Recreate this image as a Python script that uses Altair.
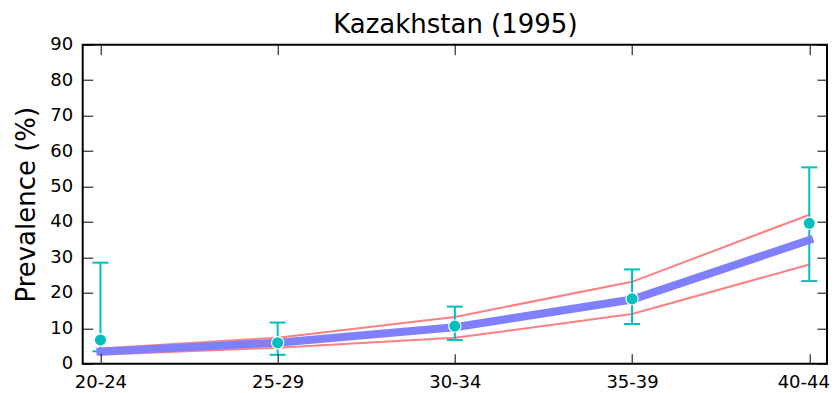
import altair as alt
import pandas as pd

# ---- data ----
age_groups = ["20-24", "25-29", "30-34", "35-39", "40-44"]
model_mean = [3.4, 5.9, 10.3, 18.1, 34.9]
model_upper = [4.3, 7.3, 13.2, 23.1, 42.0]
model_lower = [2.5, 4.5, 7.3, 14.0, 28.0]
obs_value = [6.7, 5.9, 10.6, 18.3, 39.6]
obs_upper = [28.5, 11.6, 16.1, 26.6, 55.4]
obs_lower = [3.5, 2.5, 6.7, 11.2, 23.3]
y_ticks = [0, 10, 20, 30, 40, 50, 60, 70, 80, 90]
chart_title = "Kazakhstan (1995)"
y_title = "Prevalence (%)"

W, H = 744.3, 319

df = pd.DataFrame({
    "age": age_groups,
    "mean": model_mean,
    "obs": obs_value,
    "lo": obs_lower,
    "hi": obs_upper,
})
bounds = pd.concat([
    pd.DataFrame({"age": age_groups, "value": model_upper, "series": "upper"}),
    pd.DataFrame({"age": age_groups, "value": model_lower, "series": "lower"}),
])

FONT = "DejaVu Sans"
CYAN = "#00bfbf"
xscale = alt.Scale(type="point", padding=0.1)
yscale = alt.Scale(domain=[0, 90], nice=False, zero=False)

common = dict(offset=-10, tickSize=10, tickColor="black", tickWidth=1,
              domain=False, grid=False, zindex=1, labelColor="black",
              labelFont=FONT, labelFontSize=18)

# keep the last bottom label inside the page
last_label_shift = {
    "condition": {"test": "datum.value === '%s'" % age_groups[-1], "value": -6},
    "value": 0,
}

bottom_axis = alt.Axis(orient="bottom", labelPadding=10, labelAngle=0,
                       labelOffset=last_label_shift, title=None, **common)
top_axis = alt.Axis(orient="top", labelPadding=36, labelAngle=0,
                    title=chart_title, titleFont=FONT, titleFontSize=26,
                    titleFontWeight="normal", titleColor="black",
                    titleX=W / 2, titleY=-22.4, titleAngle=0,
                    titleBaseline="alphabetic", titleAlign="center", **common)
left_axis = alt.Axis(orient="left", values=y_ticks, labelPadding=10,
                     labelFlush=False, labelOverlap=False,
                     title=y_title, titleFont=FONT, titleFontSize=26,
                     titleFontWeight="normal", titleColor="black",
                     titleX=-58.7, titleY=H / 2, titleAngle=-90,
                     titleBaseline="alphabetic", titleAlign="center", **common)
right_axis = alt.Axis(orient="right", values=y_ticks, labels=False,
                      title=None, **common)

base = alt.Chart(df)

red = alt.Chart(bounds).mark_line(color="#ff8080", strokeWidth=2,
                                  strokeCap="square").encode(
    x=alt.X("age:N", sort=age_groups, scale=xscale, axis=bottom_axis),
    y=alt.Y("value:Q", scale=yscale, axis=left_axis),
    detail="series:N",
)

err = base.mark_rule(color=CYAN, strokeWidth=2).encode(
    x=alt.X("age:N", sort=age_groups, scale=xscale, axis=top_axis),
    y=alt.Y("lo:Q", scale=yscale, axis=right_axis),
    y2="hi:Q",
)

cap_hi = base.mark_tick(color=CYAN, orient="horizontal", size=16,
                        thickness=2, opacity=1).encode(
    x=alt.X("age:N", sort=age_groups, scale=xscale, axis=None),
    y=alt.Y("hi:Q", scale=yscale, axis=None),
)
cap_lo = base.mark_tick(color=CYAN, orient="horizontal", size=16,
                        thickness=2, opacity=1).encode(
    x=alt.X("age:N", sort=age_groups, scale=xscale, axis=None),
    y=alt.Y("lo:Q", scale=yscale, axis=None),
)

blue = base.mark_line(color="#8080ff", strokeWidth=8,
                      strokeCap="square").encode(
    x=alt.X("age:N", sort=age_groups, scale=xscale, axis=None),
    y=alt.Y("mean:Q", scale=yscale, axis=None),
)

pts = base.mark_circle(color=CYAN, size=150, opacity=1, stroke="white",
                       strokeWidth=1.2).encode(
    x=alt.X("age:N", sort=age_groups, scale=xscale, axis=None),
    y=alt.Y("obs:Q", scale=yscale, axis=None),
)

chart = alt.layer(red, err, cap_hi, cap_lo, blue, pts).resolve_axis(
    x="independent", y="independent"
).properties(
    width=W, height=H,
    autosize=alt.AutoSizeParams(type="none"),
    padding={"left": 74.7, "top": 36.7, "right": 4, "bottom": 29},
).configure(
    font=FONT,
    view=alt.ViewConfig(stroke="black", strokeWidth=2),
)

chart.save("out.html", embed_options={"renderer": "svg", "actions": False})
